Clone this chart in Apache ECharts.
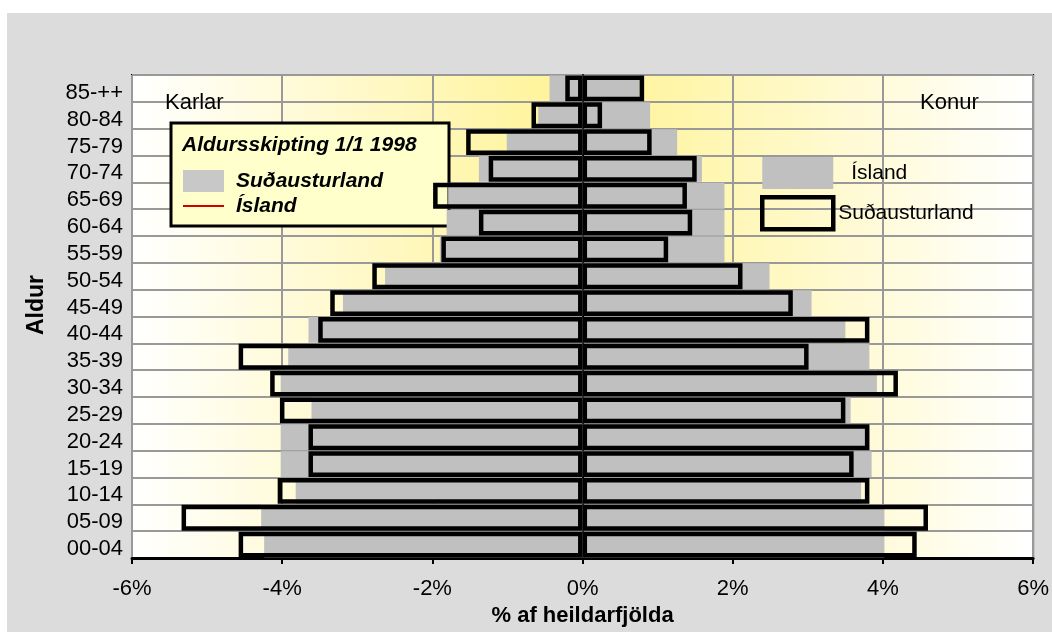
<!DOCTYPE html>
<html>
<head>
<meta charset="utf-8">
<script src="https://cdn.jsdelivr.net/npm/echarts@6/dist/echarts.min.js"></script>
<style>
  html, body { margin: 0; padding: 0; background: #ffffff; }
  #wrap { position: relative; width: 1052px; height: 632px; }
  #bg { position: absolute; left: 7px; top: 13px; right: 0; bottom: 0; background: #dcdcdc; }
  #chart { position: absolute; left: 0; top: 0; width: 1052px; height: 632px; }
</style>
</head>
<body>
<div id="wrap"><div id="bg"></div><div id="chart"></div></div>
<script>
// Age groups, bottom to top
const categories = ['00-04','05-09','10-14','15-19','20-24','25-29','30-34','35-39','40-44','45-49','50-54','55-59','60-64','65-69','70-74','75-79','80-84','85-++'];
// Percent of total population
const islandMale   = [4.24, 4.28, 3.82, 4.02, 4.02, 3.61, 4.02, 3.92, 3.65, 3.19, 2.63, 1.90, 1.81, 1.79, 1.38, 1.01, 0.59, 0.44];
const islandFemale = [4.02, 4.02, 3.71, 3.85, 3.82, 3.57, 3.92, 3.82, 3.50, 3.05, 2.49, 1.89, 1.89, 1.89, 1.59, 1.26, 0.90, 0.76];
const sudurMale    = [4.58, 5.34, 4.06, 3.65, 3.65, 4.03, 4.16, 4.58, 3.52, 3.36, 2.80, 1.88, 1.38, 1.99, 1.25, 1.55, 0.68, 0.23];
const sudurFemale  = [4.45, 4.60, 3.82, 3.61, 3.82, 3.50, 4.20, 3.01, 3.82, 2.80, 2.13, 1.14, 1.46, 1.39, 1.52, 0.92, 0.26, 0.82];
const xTicks = { min: -6, max: 6, interval: 2 };

const chart = echarts.init(document.getElementById('chart'), null, { renderer: 'canvas' });
const FONT = 'Liberation Sans, Arial, sans-serif';
const neg = a => a.map(v => -v);

const grayStyle = { color: '#c0c0c0' };
const outlineStyle = { color: 'rgba(0,0,0,0)', borderColor: '#000000', borderWidth: 4.5 };

const option = {
  animation: false,
  backgroundColor: 'transparent',
  textStyle: { fontFamily: FONT },
  grid: {
    left: 132, right: 9, top: 75, bottom: 74,
    show: true,
    borderColor: '#000000',
    borderWidth: 2,
    backgroundColor: {
      type: 'linear', x: 0, y: 0, x2: 1, y2: 0,
      colorStops: [
        { offset: 0, color: '#ffffff' },
        { offset: 0.5, color: '#fff394' },
        { offset: 1, color: '#ffffff' }
      ]
    }
  },
  legend: {
    orient: 'vertical',
    left: 755, top: 152,
    itemWidth: 71, itemHeight: 32, itemGap: 6,
    icon: 'rect',
    textStyle: { fontFamily: FONT, fontSize: 21, color: '#000' },
    data: [
      { name: 'Ísland', itemStyle: { color: '#c0c0c0', borderWidth: 0 }, textStyle: { padding: [3, 0, 0, 13] } },
      { name: 'Suðausturland', itemStyle: { color: 'rgba(0,0,0,0)', borderColor: '#000', borderWidth: 4.5 } }
    ]
  },
  xAxis: {
    type: 'value',
    min: xTicks.min, max: xTicks.max, interval: xTicks.interval,
    name: '% af heildarfjölda',
    nameLocation: 'middle',
    nameGap: 44,
    nameTextStyle: { fontFamily: FONT, fontSize: 22, fontWeight: 'bold', color: '#000' },
    axisLine: { show: true, lineStyle: { color: '#000', width: 3 } },
    axisTick: { show: true, length: 6, lineStyle: { color: '#000', width: 2 } },
    axisLabel: { formatter: v => v + '%', fontFamily: FONT, fontSize: 22, color: '#000', margin: 20 },
    splitLine: { show: true, lineStyle: { color: '#999999', width: 2 } }
  },
  yAxis: {
    type: 'category',
    data: categories,
    axisLine: { show: true, lineStyle: { color: '#000', width: 2 } },
    axisTick: { show: false },
    axisLabel: {
      interval: 0, margin: 9,
      formatter: v => '{a|' + v + '}',
      rich: { a: { fontFamily: FONT, fontSize: 22, color: '#000', padding: [9, 0, 0, 0] } }
    },
    splitLine: { show: true, interval: 0, lineStyle: { color: '#999999', width: 2 } }
  },
  series: [
    { name: 'Ísland', type: 'bar', data: neg(islandMale), itemStyle: grayStyle, barGap: '-100%', barCategoryGap: '4%', z: 2 },
    { name: 'Ísland', type: 'bar', data: islandFemale, itemStyle: grayStyle, barGap: '-100%', barCategoryGap: '4%', z: 2 },
    { name: 'Suðausturland', type: 'bar', data: neg(sudurMale), itemStyle: outlineStyle, barGap: '-100%', barCategoryGap: '4%', z: 3 },
    { name: 'Suðausturland', type: 'bar', data: sudurFemale, itemStyle: outlineStyle, barGap: '-100%', barCategoryGap: '4%', z: 3 }
  ],
  graphic: [
    { type: 'text', left: 165, top: 92, z: 10, style: { text: 'Karlar', font: '22px ' + FONT, fill: '#000' } },
    { type: 'text', left: 920, top: 92, z: 10, style: { text: 'Konur', font: '22px ' + FONT, fill: '#000' } },
    { type: 'text', x: 37, y: 305, rotation: Math.PI / 2, z: 10,
      style: { text: 'Aldur', font: 'bold 23px ' + FONT, fill: '#000', align: 'center', verticalAlign: 'middle' } },
    { type: 'rect', z: 1, shape: { x: 171, y: 123, width: 278, height: 103 },
      style: { fill: '#ffffcc', stroke: '#000', lineWidth: 3 } },
    { type: 'text', z: 1, x: 182, y: 145,
      style: { text: 'Aldursskipting 1/1 1998', font: 'italic bold 21px ' + FONT, fill: '#000', verticalAlign: 'middle' } },
    { type: 'rect', z: 1, shape: { x: 183, y: 170, width: 41, height: 22 }, style: { fill: '#c8c8c8' } },
    { type: 'text', z: 1, x: 236, y: 181,
      style: { text: 'Suðausturland', font: 'italic bold 21px ' + FONT, fill: '#000', verticalAlign: 'middle' } },
    { type: 'line', z: 1, shape: { x1: 183, y1: 206, x2: 224, y2: 206 }, style: { stroke: '#d00000', lineWidth: 2 } },
    { type: 'text', z: 1, x: 236, y: 206,
      style: { text: 'Ísland', font: 'italic bold 21px ' + FONT, fill: '#000', verticalAlign: 'middle' } }
  ]
};
chart.setOption(option);
</script>
</body>
</html>
